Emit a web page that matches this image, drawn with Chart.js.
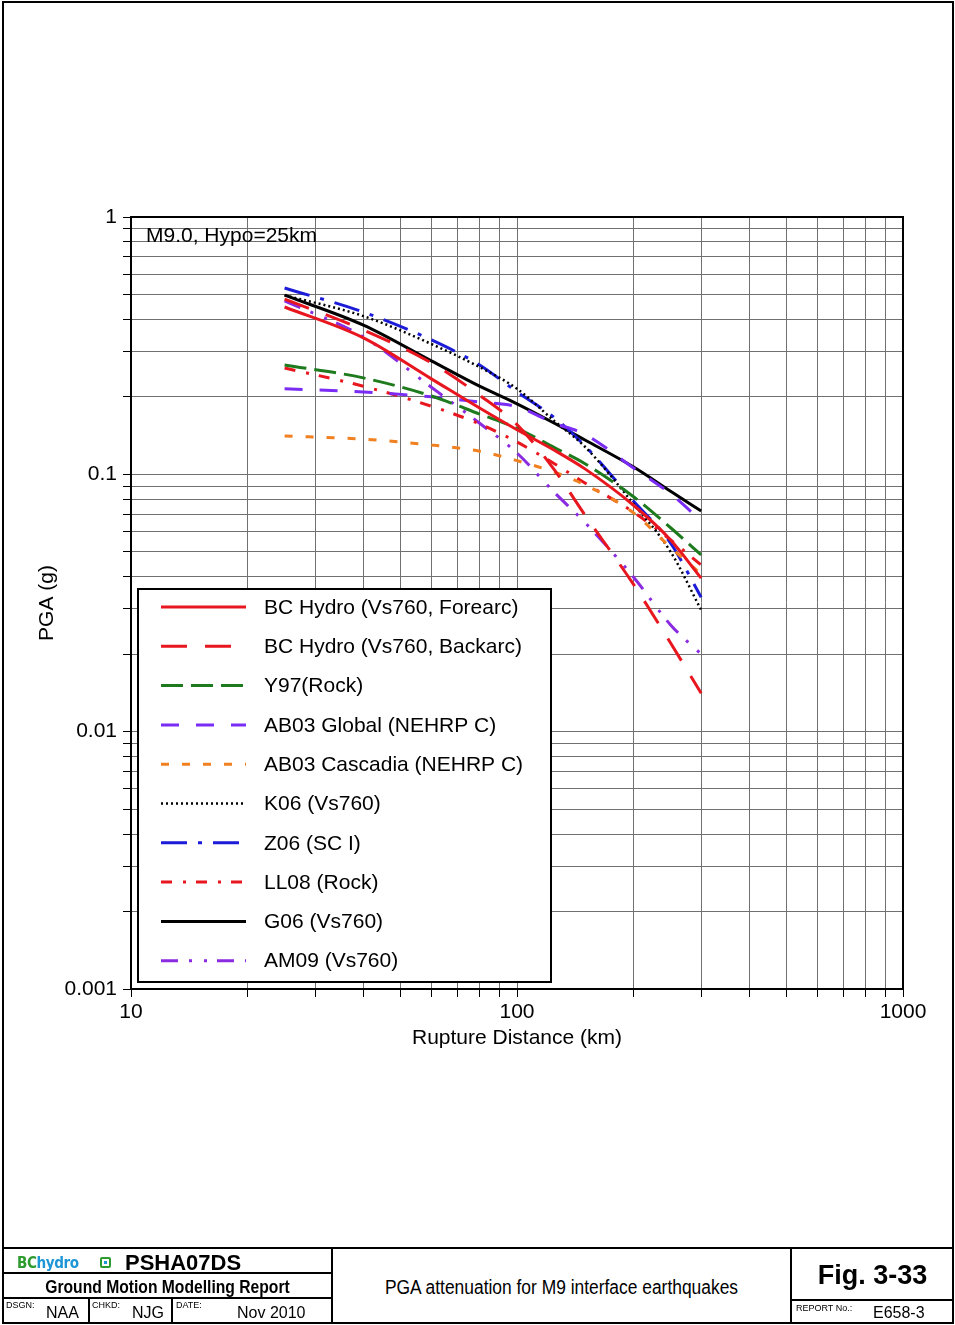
<!DOCTYPE html>
<html>
<head>
<meta charset="utf-8">
<title>PGA attenuation for M9 interface earthquakes</title>
<script src="https://cdn.jsdelivr.net/npm/chart.js@4.4.1/dist/chart.umd.min.js"></script>
<style>
  html, body { margin: 0; padding: 0; background: #fff; }
  body { width: 955px; height: 1325px; position: relative; overflow: hidden;
         font-family: "Liberation Sans", Arial, sans-serif; color: #000; }
  #chart { position: absolute; left: 0; top: 0; }
  .ln { position: absolute; background: #000; }
  .t { position: absolute; white-space: nowrap; line-height: 1; }
  .narrow { transform: scaleX(0.87); transform-origin: center; }
  .tiny { font-size: 9px; }
  .logo { font-family: "DejaVu Sans", sans-serif; font-weight: bold; font-size: 16px;
          letter-spacing: -0.5px; transform: scaleX(0.85); transform-origin: left; }
</style>
</head>
<body>
<canvas id="chart" width="955" height="1100"></canvas>

<!-- sheet border and title block -->
<div class="ln" style="left:2px;top:1px;width:952px;height:2px"></div>
<div class="ln" style="left:2px;top:1322px;width:952px;height:2px"></div>
<div class="ln" style="left:2px;top:1px;width:2px;height:1323px"></div>
<div class="ln" style="left:952px;top:1px;width:2px;height:1323px"></div>
<div class="ln" style="left:2px;top:1247px;width:952px;height:2px"></div>
<div class="ln" style="left:331px;top:1247px;width:2px;height:77px"></div>
<div class="ln" style="left:790px;top:1247px;width:2px;height:77px"></div>
<div class="ln" style="left:2px;top:1272px;width:330px;height:2px"></div>
<div class="ln" style="left:2px;top:1297px;width:330px;height:2px"></div>
<div class="ln" style="left:88px;top:1297px;width:2px;height:27px"></div>
<div class="ln" style="left:171px;top:1297px;width:2px;height:27px"></div>
<div class="ln" style="left:790px;top:1299px;width:164px;height:2px"></div>

<div class="t logo" style="left:17px;top:1255px"><span style="color:#2e9b2e">BC</span><span style="color:#1e96d6">hydro</span></div>
<div class="t" style="left:100px;top:1257px;width:11px;height:11px;background:#2e9b2e;border-radius:2px"></div>
<div class="t" style="left:102px;top:1259px;width:7px;height:7px;background:#fff"></div>
<div class="t" style="left:104px;top:1261px;width:3px;height:3px;background:#1e96d6"></div>
<div class="t" style="left:125px;top:1252px;font-size:22px;font-weight:bold">PSHA07DS</div>
<div class="t narrow" style="left:3px;width:329px;top:1278px;text-align:center;font-size:18px;font-weight:bold">Ground Motion Modelling Report</div>
<div class="t tiny" style="left:6px;top:1301px">DSGN:</div>
<div class="t" style="left:46px;top:1305px;font-size:16px">NAA</div>
<div class="t tiny" style="left:92px;top:1301px">CHKD:</div>
<div class="t" style="left:132px;top:1305px;font-size:16px">NJG</div>
<div class="t tiny" style="left:176px;top:1301px">DATE:</div>
<div class="t" style="left:237px;top:1305px;font-size:16px">Nov 2010</div>
<div class="t narrow" style="left:333px;width:457px;top:1277px;text-align:center;font-size:20px">PGA attenuation for M9 interface earthquakes</div>
<div class="t" style="left:792px;width:161px;top:1262px;text-align:center;font-size:27px;font-weight:bold">Fig. 3-33</div>
<div class="t tiny" style="left:796px;top:1304px">REPORT No.:</div>
<div class="t" style="left:873px;top:1305px;font-size:16px">E658-3</div>

<script>
// rupture distance (km) shared by every curve
const distances = [25, 40, 60, 80, 100, 125, 150, 200, 250, 300];

// PGA (g) per model
const bcForearc  = [0.447, 0.339, 0.235, 0.181, 0.149, 0.124, 0.105, 0.076, 0.0556, 0.0395];
const bcBackarc  = [0.480, 0.364, 0.271, 0.203, 0.156, 0.104, 0.0695, 0.0375, 0.0221, 0.0141];
const y97        = [0.266, 0.237, 0.2015, 0.1715, 0.151, 0.127, 0.110, 0.082, 0.062, 0.0486];
const ab03Global = [0.215, 0.209, 0.200, 0.191, 0.183, 0.158, 0.143, 0.106, 0.084, 0.066];
const ab03Casc   = [0.141, 0.137, 0.130, 0.123, 0.113, 0.102, 0.091, 0.071, 0.052, 0.041];
const k06        = [0.497, 0.412, 0.321, 0.261, 0.215, 0.161, 0.128, 0.077, 0.050, 0.0297];
const z06        = [0.530, 0.427, 0.333, 0.266, 0.209, 0.166, 0.129, 0.079, 0.054, 0.0333];
const ll08       = [0.259, 0.220, 0.184, 0.157, 0.1335, 0.110, 0.0925, 0.0714, 0.0556, 0.0444];
const g06        = [0.497, 0.380, 0.276, 0.220, 0.188, 0.158, 0.136, 0.107, 0.086, 0.072];
const am09       = [0.472, 0.342, 0.218, 0.158, 0.121, 0.085, 0.065, 0.040, 0.026, 0.020];

// log grid positions and the ones that get a label
const xTicks = [10, 20, 30, 40, 50, 60, 70, 80, 90,
                100, 200, 300, 400, 500, 600, 700, 800, 900, 1000];
const yTicks = [0.001, 0.002, 0.003, 0.004, 0.005, 0.006, 0.007, 0.008, 0.009,
                0.01, 0.02, 0.03, 0.04, 0.05, 0.06, 0.07, 0.08, 0.09,
                0.1, 0.2, 0.3, 0.4, 0.5, 0.6, 0.7, 0.8, 0.9, 1];
const xLabels = [10, 100, 1000];
const yLabels = [0.001, 0.01, 0.1, 1];

const FONT = '"Liberation Sans", Arial, sans-serif';
const FSIZE = 21;
const GRID = '#707070';

function series(label, values, color, dash, width) {
    return {
        label,
        data: distances.map((d, i) => ({ x: d, y: values[i] })),
        borderColor: color,
        borderDash: dash,
        borderWidth: width || 3,
        pointRadius: 0,
        fill: false,
        cubicInterpolationMode: 'monotone'
    };
}

const datasets = [
    series('BC Hydro (Vs760, Forearc)', bcForearc, '#e8161e', []),
    series('BC Hydro (Vs760, Backarc)', bcBackarc, '#e8161e', [26, 18]),
    series('Y97(Rock)', y97, '#1d7a1d', [22, 8]),
    series('AB03 Global (NEHRP C)', ab03Global, '#7a2cf5', [18, 17]),
    series('AB03 Cascadia (NEHRP C)', ab03Casc, '#f08020', [8, 13]),
    series('K06 (Vs760)', k06, '#000000', [2, 3], 2.5),
    series('Z06 (SC I)', z06, '#1c1cd8', [26, 11, 4, 11]),
    series('LL08 (Rock)', ll08, '#e8161e', [11, 11, 3, 10]),
    series('G06 (Vs760)', g06, '#000000', []),
    series('AM09 (Vs760)', am09, '#8a2be2', [17, 11, 3, 12, 3, 10])
];

// plot frame, note in the corner and the boxed legend
const frameAndLegend = {
    id: 'frameAndLegend',
    afterDraw(chart) {
        const { ctx, chartArea: a } = chart;
        ctx.save();
        ctx.strokeStyle = '#000';
        ctx.lineWidth = 2;
        ctx.strokeRect(a.left, a.top, a.right - a.left, a.bottom - a.top);

        ctx.fillStyle = '#000';
        ctx.font = FSIZE + 'px ' + FONT;
        ctx.textBaseline = 'middle';
        ctx.textAlign = 'left';
        ctx.fillText('M9.0, Hypo=25km', a.left + 15, a.top + 19);

        const bx = a.left + 7, by = a.top + 372, bw = 413, bh = 393;
        ctx.fillStyle = '#fff';
        ctx.fillRect(bx, by, bw, bh);
        ctx.strokeRect(bx, by, bw, bh);

        chart.data.datasets.forEach((ds, i) => {
            const y = by + 18 + i * 39.3;
            ctx.beginPath();
            ctx.strokeStyle = ds.borderColor;
            ctx.lineWidth = ds.borderWidth;
            ctx.setLineDash(ds.borderDash);
            ctx.moveTo(bx + 23, y);
            ctx.lineTo(bx + 108, y);
            ctx.stroke();
            ctx.setLineDash([]);
            ctx.fillStyle = '#000';
            ctx.fillText(ds.label, bx + 126, y + 1);
        });
        ctx.restore();
    }
};

new Chart(document.getElementById('chart'), {
    type: 'line',
    data: { datasets },
    plugins: [frameAndLegend],
    options: {
        responsive: false,
        animation: false,
        devicePixelRatio: 1,
        layout: { padding: { top: 217, right: 52, left: 0, bottom: 0 } },
        plugins: { legend: { display: false }, tooltip: { enabled: false } },
        scales: {
            x: {
                type: 'logarithmic',
                min: 10, max: 1000,
                afterBuildTicks: s => { s.ticks = xTicks.map(v => ({ value: v })); },
                afterFit: s => { s.height = 111; },
                ticks: {
                    autoSkip: false, maxRotation: 0, padding: 3,
                    color: '#000', font: { family: FONT, size: FSIZE },
                    callback: v => xLabels.includes(v) ? String(v) : ''
                },
                grid: { color: GRID, lineWidth: 1, tickColor: '#000', tickLength: 8 },
                border: { color: '#000', width: 2 },
                title: {
                    display: true, text: 'Rupture Distance (km)', color: '#000',
                    font: { family: FONT, size: FSIZE }, padding: { top: 0, bottom: 49 }
                }
            },
            y: {
                type: 'logarithmic',
                min: 0.001, max: 1,
                afterBuildTicks: s => { s.ticks = yTicks.map(v => ({ value: v })); },
                afterFit: s => { s.width = 131; },
                ticks: {
                    autoSkip: false, padding: 6,
                    color: '#000', font: { family: FONT, size: FSIZE },
                    callback: v => yLabels.includes(v) ? String(v) : ''
                },
                grid: { color: GRID, lineWidth: 1, tickColor: '#000', tickLength: 8 },
                border: { color: '#000', width: 2 },
                title: {
                    display: true, text: 'PGA (g)', color: '#000',
                    font: { family: FONT, size: FSIZE }, padding: { top: 35, bottom: 0 }
                }
            }
        }
    }
});
</script>
</body>
</html>
